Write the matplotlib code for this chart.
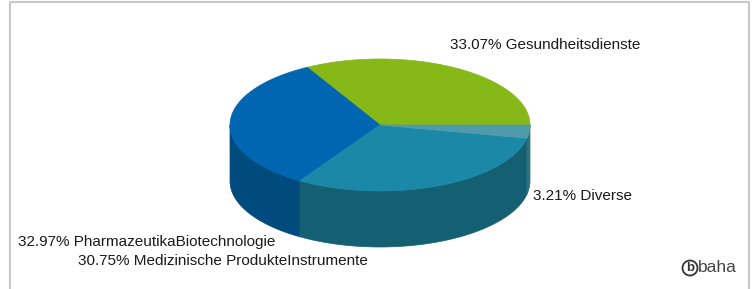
import numpy as np
import matplotlib
matplotlib.use("Agg")
import matplotlib.pyplot as plt
from matplotlib.patches import Polygon, Circle

# ---- data ----
categories = ["Gesundheitsdienste", "PharmazeutikaBiotechnologie",
              "Medizinische ProdukteInstrumente", "Diverse"]
values = [33.07, 32.97, 30.75, 3.21]
top_colors = ["#86b817", "#0066b1", "#1b88a7", "#4f9bab"]
side_colors = ["#5f8410", "#004a7e", "#155f73", "#2f7080"]

W, H = 755, 289
fig = plt.figure(figsize=(W / 100, H / 100), dpi=100)
ax = fig.add_axes([0, 0, 1, 1])
ax.set_xlim(0, W)
ax.set_ylim(H, 0)
ax.axis("off")

# frame border
ax.plot([10, 10, 749, 749], [H, 2, 2, H], color="#c8c8c8", lw=1.5)

cx, cy, rx, ry, depth = 380, 125, 150, 66, 56

fr = np.array(values) / np.sum(values)
edges = np.concatenate([[0], np.cumsum(fr)]) * 2 * np.pi


def pt(t, dy=0.0):
    return cx + rx * np.cos(t), cy - ry * np.sin(t) + dy


# side walls (visible where sin(t) < 0, i.e. t in [pi, 2pi])
for i in range(len(values)):
    a0, a1 = edges[i], edges[i + 1]
    lo, hi = max(a0, np.pi), min(a1, 2 * np.pi)
    if hi <= lo:
        continue
    t = np.linspace(lo, hi, 100)
    xs, ys = pt(t)
    xb, yb = pt(t[::-1], depth)
    poly = np.column_stack([np.concatenate([xs, xb]), np.concatenate([ys, yb])])
    ax.add_patch(Polygon(poly, closed=True, facecolor=side_colors[i],
                         edgecolor=side_colors[i], lw=0.5, zorder=2))

# top faces
for i in range(len(values)):
    t = np.linspace(edges[i], edges[i + 1], 200)
    xs, ys = pt(t)
    poly = np.column_stack([np.concatenate([[cx], xs]), np.concatenate([[cy], ys])])
    ax.add_patch(Polygon(poly, closed=True, facecolor=top_colors[i],
                         edgecolor=top_colors[i], lw=0.5, zorder=3))

fam = ["Liberation Sans", "DejaVu Sans"]
fs = 11
labels = [f"{v:.2f}% {c}" for v, c in zip(values, categories)]
positions = [(450, 45), (18, 242), (78, 261), (533, 196)]
for (x, y), s in zip(positions, labels):
    ax.text(x, y, s, fontsize=fs, family=fam, color="#1a1a1a",
            ha="left", va="center", zorder=5)

# logo
ax.add_patch(Circle((690, 268), 7.5, fill=False, edgecolor="#333333", lw=1.3, zorder=5))
ax.text(690, 268, "b", fontsize=9.5, family=fam, fontweight="bold",
        color="#333333", ha="center", va="center", zorder=5)
ax.text(698, 268, "baha", fontsize=12.5, family=fam, color="#444444",
        ha="left", va="center", zorder=5)

fig.savefig("out.png", dpi=100)
